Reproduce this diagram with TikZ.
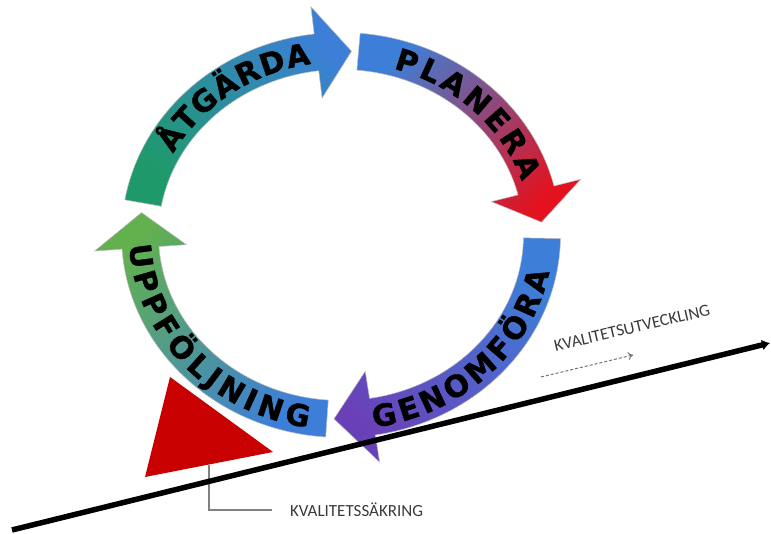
\documentclass[tikz,border=0pt]{standalone}
\usepackage{fontspec}
\setmainfont{Carlito}
\newfontfamily\arcfont{DejaVu Sans}[BoldFeatures={FakeBold=1.3}]
\usetikzlibrary{arrows.meta}
\usetikzlibrary{positioning}
\usetikzlibrary{decorations.text}

\definecolor{cycblue}{HTML}{3D7FD8}
\definecolor{actgreen}{HTML}{1E9A6A}
\definecolor{planred}{HTML}{E3121E}
\definecolor{doviolet}{HTML}{6A40B8}
\definecolor{checkgreen}{HTML}{62B04E}
\definecolor{qsred}{HTML}{C80000}
\definecolor{notegray}{HTML}{3A3A3A}

\newcommand\phasefont{\arcfont\bfseries\fontsize{30}{32}\selectfont}

\begin{document}
\begin{tikzpicture}[x=1pt,y=1pt,
  cyclearrow/.style={draw=black!25,line width=0.5pt},
  phaselabel/.style={decorate,decoration={text along path,text align={fit to path},text={|\phasefont|#1}}},
  note/.style={text=notegray,font=\fontsize{17}{19}\selectfont,inner sep=0pt}]
\useasboundingbox (0,0) rectangle (771,534);

% kvalitetssakring
\fill[qsred] (170,157) -- (145,57) -- (273,82) -- cycle;
\coordinate (qa) at (209,69);
\coordinate (knee) at (209,24);
\node[note,outer xsep=18pt,right=63pt of knee] (qalabel) {KVALITETSSÄKRING};
\draw[black!50,line width=1.2pt] (qa) |- (qalabel);

\begin{scope}[shift={(341,299)}]
  % atgarda
  \shadedraw[cyclearrow,top color=cycblue,middle color=actgreen!55!cycblue,bottom color=actgreen,shading angle=-45]
    (170:219.5pt and 202.5pt) arc[start angle=170,end angle=97,x radius=219.5pt,y radius=202.5pt]
    -- (97:247pt and 230pt) -- (87:201pt and 184pt) -- (97:155pt and 138pt)
    -- (97:182.5pt and 165.5pt) arc[start angle=97,end angle=170,x radius=182.5pt,y radius=165.5pt] -- cycle;
  % planera
  \shadedraw[cyclearrow,top color=cycblue,middle color=cycblue!70!planred,bottom color=planred,shading angle=45]
    (85:219.5pt and 202.5pt) arc[start angle=85,end angle=14,x radius=219.5pt,y radius=202.5pt]
    -- (14:247pt and 230pt) -- (4:201pt and 184pt) -- (14:155pt and 138pt)
    -- (14:182.5pt and 165.5pt) arc[start angle=14,end angle=85,x radius=182.5pt,y radius=165.5pt] -- cycle;
  % genomfora
  \shadedraw[cyclearrow,top color=cycblue,middle color=cycblue!85!doviolet,bottom color=doviolet,shading angle=-45]
    (-1:219.5pt and 202.5pt) arc[start angle=-1,end angle=-81,x radius=219.5pt,y radius=202.5pt]
    -- (-81:247pt and 230pt) -- (-92:201pt and 184pt) -- (-81:155pt and 138pt)
    -- (-81:182.5pt and 165.5pt) arc[start angle=-81,end angle=-1,x radius=182.5pt,y radius=165.5pt] -- cycle;
  % uppfoljning
  \shadedraw[cyclearrow,top color=checkgreen,middle color=cycblue!60!actgreen,bottom color=cycblue,shading angle=45]
    (266:219.5pt and 202.5pt) arc[start angle=266,end angle=184,x radius=219.5pt,y radius=202.5pt]
    -- (184:247pt and 230pt) -- (173:201pt and 184pt) -- (184:155pt and 138pt)
    -- (184:182.5pt and 165.5pt) arc[start angle=184,end angle=266,x radius=182.5pt,y radius=165.5pt] -- cycle;

  \path[phaselabel=ÅTGÄRDA] (152:190pt and 173pt) arc[start angle=152,end angle=99,x radius=190pt,y radius=173pt];
  \path[phaselabel=PLANERA] (74:190pt and 173pt) arc[start angle=74,end angle=18,x radius=190pt,y radius=173pt];
  \path[phaselabel=GENOMFÖRA] (-81:212pt and 195pt) arc[start angle=-81,end angle=-11,x radius=212pt,y radius=195pt];
  \path[phaselabel=UPPFÖLJNING] (183:212pt and 195pt) arc[start angle=183,end angle=261,x radius=212pt,y radius=195pt];
\end{scope}

% kvalitetsutveckling
\coordinate (lineA) at (12,4);
\coordinate (lineB) at (770,191);
\draw[line width=5.5pt,-{Latex[length=8pt,width=11pt]}] (lineA) -- (lineB);
\coordinate (devA) at (541,157);
\coordinate (devB) at (633,179);
\draw[black!55,line width=1pt,densely dashed,-{To[length=5pt,width=8pt]}] (devA) -- (devB);
\node[note,rotate=13] (devlabel) at (632,206) {KVALITETSUTVECKLING};
\end{tikzpicture}
\end{document}
